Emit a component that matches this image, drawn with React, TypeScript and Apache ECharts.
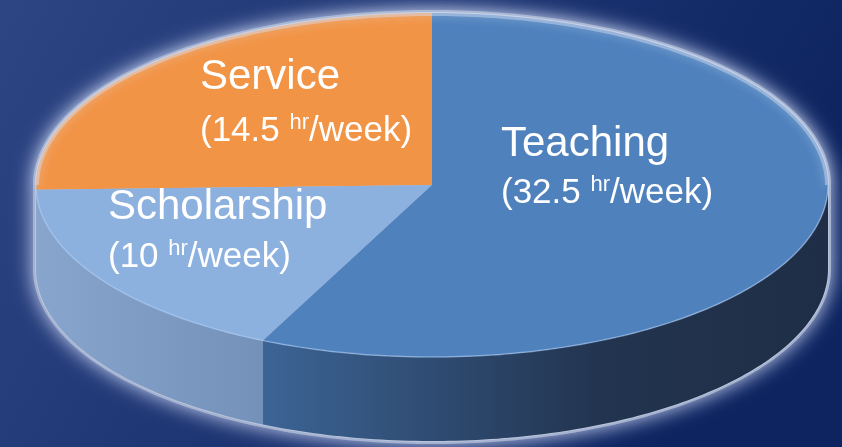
import React, { useEffect, useRef } from 'react';
import * as echarts from 'echarts';

// ---- data ----
const categories = ['Service', 'Scholarship', 'Teaching'];
const hoursPerWeek = [14.5, 10, 32.5];
const unitSup = 'hr';
const unitRest = '/week';

// ---- styling ----
const topColors = ['#F29446', '#8DB1DF', '#4F81BD'];
const sideStops = [
  ['#C9742F', '#B86A2B'],
  ['#87A5CD', '#7491B9'],
  ['#3C6495', '#22344F', '#1F2E46'],
];
const labelLayout = [
  { x: 200, y: 47, lh: 54, pad: 9 },
  { x: 108, y: 179, lh: 50, pad: 7 },
  { x: 501, y: 117, lh: 49, pad: 6 },
];

const W = 842;
const H = 447;
const CX = 432;
const CY = 185;
const RX = 396;
const RY = 172;
const DEPTH = 84;
const FONT = '"Liberation Sans", Arial, Helvetica, sans-serif';

const rad = (d: number) => (d * Math.PI) / 180;
const pt = (deg: number, dy = 0, e = 0): number[] => [
  CX + (RX + e) * Math.cos(rad(deg)),
  CY + dy - (RY + e) * Math.sin(rad(deg)),
];
const arc = (a: number, b: number, dy = 0, e = 0): number[][] => {
  const out: number[][] = [];
  const n = Math.max(2, Math.ceil(Math.abs(b - a)));
  for (let k = 0; k <= n; k++) out.push(pt(a + ((b - a) * k) / n, dy, e));
  return out;
};

const silhouette = (e: number): number[][] => [
  ...arc(0, 180, 0, e),
  ...arc(180, 360, DEPTH, e),
];

export default function App() {
  const ref = useRef<HTMLDivElement>(null);
  useEffect(() => {
    if (!ref.current) return;
    const chart = echarts.init(ref.current, undefined, { renderer: 'svg' });
    const total = hoursPerWeek.reduce((s, v) => s + v, 0);
    const cum: number[] = [];
    hoursPerWeek.reduce((s, v, i) => {
      cum[i] = s;
      return s + v;
    }, 0);

    const labels = categories.map((name, i) => {
      const L = labelLayout[i];
      return {
        type: 'text',
        x: L.x,
        y: L.y,
        z: 100,
        silent: true,
        style: {
          text: `{a|${name}}\n{b|(${hoursPerWeek[i]} }{s|${unitSup}}{b|${unitRest})}`,
          fill: '#fff',
          fontFamily: FONT,
          rich: {
            a: { fontSize: 42, lineHeight: L.lh, fill: '#fff', fontFamily: FONT },
            b: { fontSize: 35, lineHeight: L.lh, fill: '#fff', fontFamily: FONT },
            s: {
              fontSize: 22,
              verticalAlign: 'top',
              padding: [L.pad, 0, 0, 0],
              fill: '#fff',
              fontFamily: FONT,
            },
          },
        },
      };
    });

    chart.setOption({
      animation: false,
      graphic: [
        {
          type: 'rect',
          z: -10,
          silent: true,
          shape: { x: 0, y: 0, width: W, height: H },
          style: {
            fill: new echarts.graphic.LinearGradient(0, 0, 1, 0.3, [
              { offset: 0, color: '#2E4584' },
              { offset: 0.5, color: '#1E3573' },
              { offset: 1, color: '#0D2461' },
            ]),
          },
        },
        {
          type: 'polygon',
          z: 0,
          silent: true,
          shape: { points: silhouette(3) },
          style: {
            fill: '#A6B3D0',
            shadowBlur: 20,
            shadowColor: 'rgba(210,222,250,0.95)',
          },
        },
        {
          type: 'polygon',
          z: 1,
          silent: true,
          shape: { points: silhouette(1) },
          style: { fill: '#B9C5DD' },
        },
        {
          type: 'polyline',
          z: 50,
          silent: true,
          shape: { points: arc(0, 180, 0, -1) },
          style: {
            fill: 'none',
            stroke: 'rgba(215,225,245,0.45)',
            lineWidth: 4,
            shadowBlur: 10,
            shadowColor: 'rgba(220,230,250,0.9)',
          },
        },
        {
          type: 'polyline',
          z: 50,
          silent: true,
          shape: { points: arc(180, 360, 0, 0) },
          style: {
            fill: 'none',
            stroke: 'rgba(175,205,245,0.55)',
            lineWidth: 1.5,
          },
        },
        ...labels,
      ],
      series: [
        {
          type: 'custom',
          coordinateSystem: 'none',
          silent: true,
          z: 2,
          data: hoursPerWeek.map((v, i) => ({ name: categories[i], value: v })),
          renderItem: (params: any, api: any) => {
            const i = params.dataIndex;
            const v = api.value(0);
            const a1 = 90 + (360 * cum[i]) / total;
            const a2 = a1 + (360 * v) / total;
            const children: any[] = [];
            const ranges = [
              [180, 360],
              [540, 720],
            ];
            ranges.forEach(([lo, hi]) => {
              const s = Math.max(a1, lo);
              const e = Math.min(a2, hi);
              if (e > s) {
                const top = arc(s, e, 0);
                const bot = arc(e, s, DEPTH);
                const stops = sideStops[i];
                children.push({
                  type: 'polygon',
                  shape: { points: [...top, ...bot] },
                  style: {
                    fill: new echarts.graphic.LinearGradient(
                      0,
                      0,
                      1,
                      0,
                      stops.map((c, k) => ({
                        offset: stops.length === 3 ? [0, 0.6, 1][k] : k,
                        color: c,
                      }))
                    ),
                  },
                });
              }
            });
            children.push({
              type: 'polygon',
              shape: { points: [[CX, CY], ...arc(a1, a2, 0)] },
              style: { fill: topColors[i] },
            });
            return { type: 'group', children };
          },
        },
      ],
    });
    return () => chart.dispose();
  }, []);
  return (
    <div
      ref={ref}
      style={{ position: 'fixed', left: 0, top: 0, width: W, height: H }}
    />
  );
}
